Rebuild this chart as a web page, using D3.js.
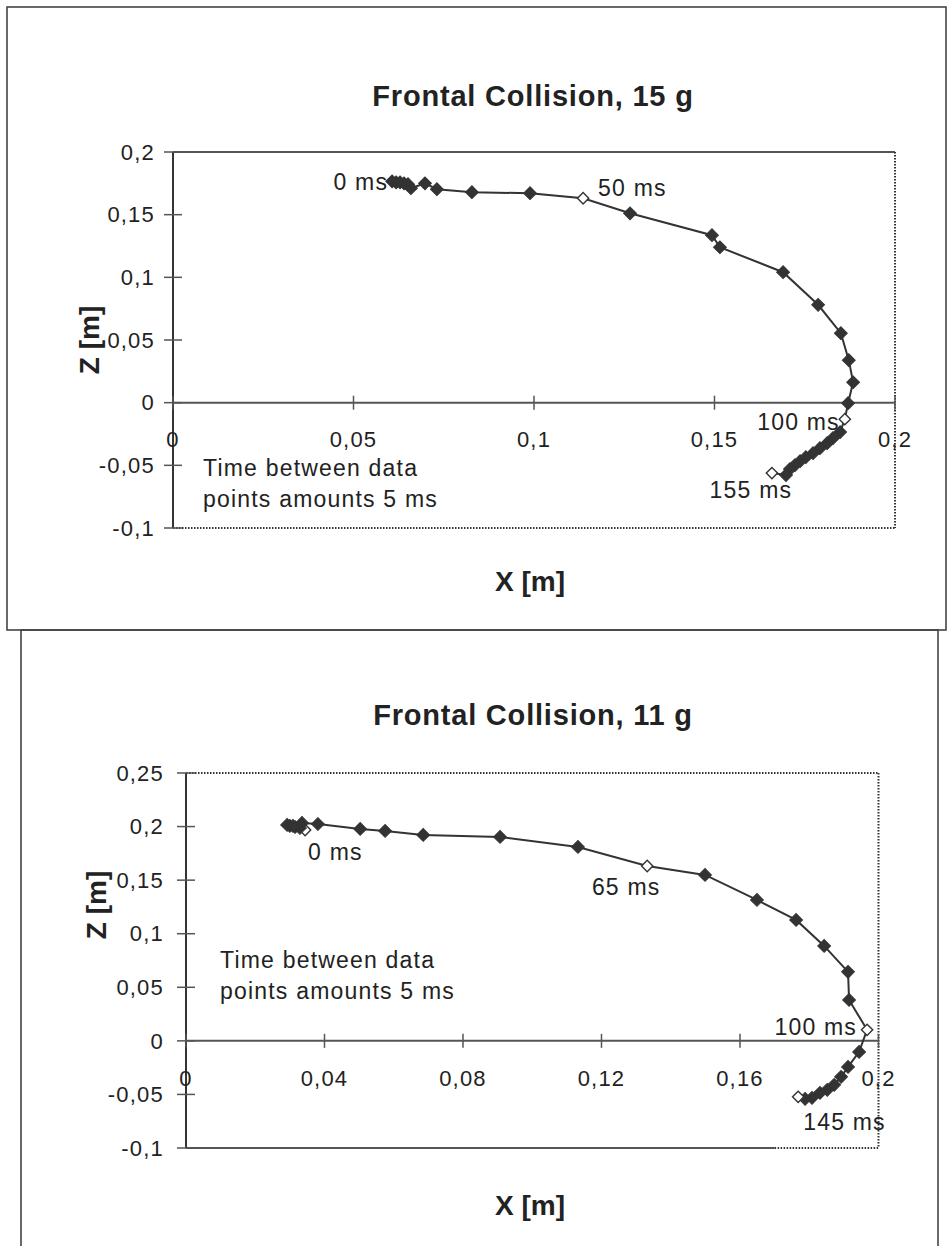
<!DOCTYPE html>
<head>
<title>Frontal Collision trajectories</title>
<meta charset="utf-8">
<style>
body { margin: 0; background: #fff; }
text { font-family: "Liberation Sans", Arial, sans-serif; fill: #222; }
.tick text { font-size: 22px; letter-spacing: 1.2px; }
.title { font-size: 29px; font-weight: bold; letter-spacing: 0.8px; }
.axtitle { font-size: 28px; font-weight: bold; }
.note, .mslabel { font-size: 23px; letter-spacing: 1.2px; }
.frame { fill: none; stroke: #444; stroke-width: 1.6px; }
.axis-line { stroke: #555; stroke-width: 2px; }
.dotted { stroke: #333; stroke-width: 2px; stroke-dasharray: 1.5 1.5; fill: none; }
.trace { fill: none; stroke: #333; stroke-width: 2px; }
</style>
</head>
<body>
<svg width="948" height="1246"></svg>
<script src="https://cdnjs.cloudflare.com/ajax/libs/d3/7.8.5/d3.min.js"></script>
<script>
// time between data points, ms
const timeStep = 5;

// 15 g run, 0..155 ms
const x15 = [0.0607, 0.0618, 0.0629, 0.0640, 0.0651, 0.0659, 0.0698, 0.0731, 0.0828, 0.0989,
  0.1136, 0.1266, 0.1493, 0.1515, 0.1690, 0.1787, 0.1850, 0.1872, 0.1884, 0.1870,
  0.1861, 0.1848, 0.1828, 0.1812, 0.1792, 0.1773, 0.1753, 0.1737, 0.1723, 0.1709,
  0.1698, 0.1659];
const z15 = [0.1766, 0.1758, 0.1758, 0.1750, 0.1743, 0.1711, 0.1750, 0.1703, 0.1679, 0.1671,
  0.1631, 0.1511, 0.1336, 0.1240, 0.1041, 0.0781, 0.0554, 0.0339, 0.0163, -0.0004,
  -0.0132, -0.0235, -0.0283, -0.0323, -0.0363, -0.0403, -0.0435, -0.0467, -0.0498, -0.0530,
  -0.0578, -0.0562];
const open15 = [50, 100, 155];
const labelTimes15 = [0, 50, 100, 155];
const xTicks15 = [0, 0.05, 0.1, 0.15, 0.2];
const zTicks15 = [-0.1, -0.05, 0, 0.05, 0.1, 0.15, 0.2];

// 11 g run, 0..145 ms
const x11 = [0.0344, 0.0329, 0.0315, 0.0300, 0.0292, 0.0309, 0.0335, 0.0381, 0.0503, 0.0575,
  0.0685, 0.0907, 0.1132, 0.1332, 0.1499, 0.1649, 0.1762, 0.1843, 0.1912, 0.1915,
  0.1967, 0.1944, 0.1912, 0.1892, 0.1872, 0.1852, 0.1831, 0.1808, 0.1788, 0.1768];
const z11 = [0.1968, 0.1987, 0.1996, 0.2006, 0.2015, 0.2006, 0.2034, 0.2024, 0.1978, 0.1959,
  0.1922, 0.1903, 0.1810, 0.1632, 0.1549, 0.1315, 0.1129, 0.0886, 0.0644, 0.0382,
  0.0103, -0.0103, -0.0243, -0.0336, -0.0410, -0.0457, -0.0485, -0.0532, -0.0541, -0.0522];
const open11 = [0, 65, 100, 145];
const labelTimes11 = [0, 65, 100, 145];
const xTicks11 = [0, 0.04, 0.08, 0.12, 0.16, 0.2];
const zTicks11 = [-0.1, -0.05, 0, 0.05, 0.1, 0.15, 0.2, 0.25];

const note = ["Time between data", "points amounts " + timeStep + " ms"];

const loc = d3.formatLocale({decimal: ",", thousands: ".", grouping: [3], currency: ["", ""], minus: "-"});
const fmt = loc.format("~g");

const svg = d3.select("svg");
svg.append("rect").attr("width", 948).attr("height", 1246).attr("fill", "#fff");

// outer boxes
svg.append("rect").attr("class", "frame").attr("x", 7).attr("y", 7).attr("width", 939).attr("height", 623);
svg.append("rect").attr("class", "frame").attr("x", 21).attr("y", 630).attr("width", 917).attr("height", 630);

function chart(o) {
  let x = d3.scaleLinear().domain([0, 0.2]).range(o.xr),
      y = d3.scaleLinear().domain(o.zd).range(o.yr),
      g = svg.append("g");
  let x0 = x(0), y0 = y(0);

  // plot frame: top, right, bottom
  g.append("line").attr("class", o.topSolid ? "axis-line" : "dotted")
    .attr("x1", x0).attr("x2", x(0.2)).attr("y1", y(o.zd[1])).attr("y2", y(o.zd[1]));
  g.append("line").attr("class", "dotted")
    .attr("x1", x(0.2)).attr("x2", x(0.2)).attr("y1", y(o.zd[1])).attr("y2", y(o.zd[0]));
  g.append("line").attr("class", "axis-line")
    .attr("x1", x0).attr("x2", x(o.solidTo)).attr("y1", y(o.zd[0])).attr("y2", y(o.zd[0]));
  g.append("line").attr("class", "dotted")
    .attr("x1", x(o.solidTo)).attr("x2", x(0.2)).attr("y1", y(o.zd[0])).attr("y2", y(o.zd[0]));

  // axes through the origin
  g.append("line").attr("class", "axis-line")
    .attr("x1", x0).attr("x2", x(0.2)).attr("y1", y0).attr("y2", y0);
  g.append("line").attr("class", "axis-line").style("stroke", "#333")
    .attr("x1", x0).attr("x2", x0).attr("y1", y(o.zd[1])).attr("y2", y(o.zd[0]));

  let xt = g.selectAll(".xt").data(o.xTicks).join("g").attr("class", "tick")
    .attr("transform", d => "translate(" + x(d) + "," + y0 + ")");
  xt.append("line").attr("class", "axis-line").attr("y1", -7).attr("y2", 7).style("stroke-width", 1.5);
  xt.append("text").attr("y", 37).attr("dy", "0.35em").attr("text-anchor", "middle").text(fmt);

  let yt = g.selectAll(".yt").data(o.zTicks).join("g").attr("class", "tick")
    .attr("transform", d => "translate(" + x0 + "," + y(d) + ")");
  yt.append("line").attr("class", "axis-line").attr("x1", -9).attr("x2", 9).style("stroke-width", 1.5);
  yt.append("text").attr("x", -o.labGap).attr("dy", "0.35em").attr("text-anchor", "end").text(fmt);

  // trajectory
  let idx = d3.range(o.xs.length);
  g.append("path").attr("class", "trace")
    .attr("d", d3.line().x(i => x(o.xs[i])).y(i => y(o.zs[i]))(idx));

  let isOpen = i => o.open.includes(i * timeStep);
  g.selectAll(".pt").data(idx).join("path")
    .attr("d", d3.symbol(d3.symbolSquare, 82))
    .attr("fill", i => isOpen(i) ? "#fff" : "#333")
    .attr("stroke", "#333")
    .attr("stroke-width", i => isOpen(i) ? 1.6 : 1)
    .attr("transform", i => "translate(" + x(o.xs[i]) + "," + y(o.zs[i]) + ") rotate(45)" + (isOpen(i) ? " scale(0.88)" : ""));

  // time labels
  o.labelTimes.forEach((t, k) => {
    let i = t / timeStep, off = o.labOff[k];
    g.append("text").attr("class", "mslabel")
      .attr("x", x(o.xs[i]) + off[0]).attr("y", y(o.zs[i]) + off[1])
      .attr("text-anchor", off[2]).text(t + " ms");
  });

  // note
  g.append("text").attr("class", "note").attr("x", o.note[0]).attr("y", o.note[1])
    .selectAll("tspan").data(note).join("tspan")
    .attr("x", o.note[0]).attr("dy", (d, i) => i ? 31 : 0).text(d => d);

  // titles
  g.append("text").attr("class", "title").attr("x", 533).attr("y", o.titleY)
    .attr("text-anchor", "middle").text(o.title);
  g.append("text").attr("class", "axtitle").attr("x", 530).attr("y", o.xTitleY)
    .attr("text-anchor", "middle").text("X [m]");
  g.append("text").attr("class", "axtitle")
    .attr("transform", "translate(" + o.zTitle[0] + "," + o.zTitle[1] + ") rotate(-90)")
    .attr("text-anchor", "middle").text("Z [m]");
}

chart({
  title: "Frontal Collision, 15 g", titleY: 106, xTitleY: 591, zTitle: [99, 340],
  xr: [173, 895], zd: [-0.1, 0.2], yr: [528, 152], topSolid: true, solidTo: 0,
  xs: x15, zs: z15, open: open15, labelTimes: labelTimes15,
  xTicks: xTicks15, zTicks: zTicks15, labGap: 18,
  labOff: [[-4, 9, "end"], [15, -2, "start"], [-5, 11, "end"], [-21, 25, "middle"]],
  note: [203, 476]
});

chart({
  title: "Frontal Collision, 11 g", titleY: 725, xTitleY: 1215, zTitle: [106, 905],
  xr: [186, 878.5], zd: [-0.1, 0.25], yr: [1148, 773], topSolid: false, solidTo: 0.17,
  xs: x11, zs: z11, open: open11, labelTimes: labelTimes11,
  xTicks: xTicks11, zTicks: zTicks11, labGap: 22,
  labOff: [[3, 30, "start"], [-21, 29, "middle"], [-10, 5, "end"], [5, 33, "start"]],
  note: [220, 968]
});
</script>
</body>
